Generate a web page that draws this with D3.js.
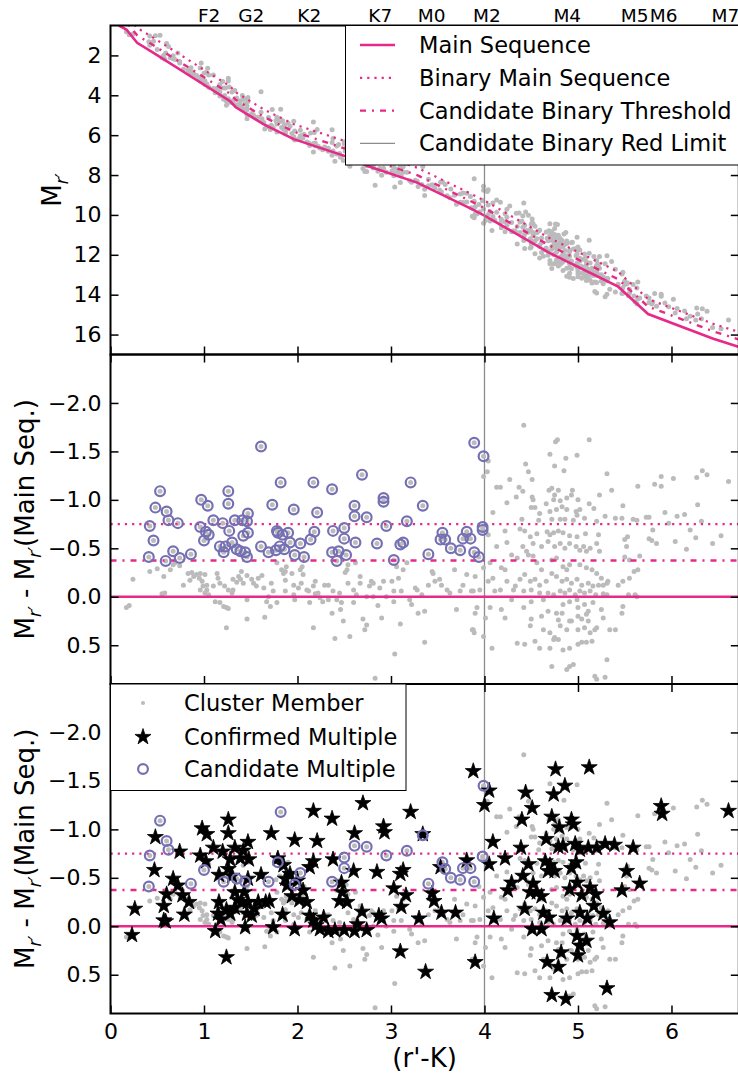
<!DOCTYPE html>
<html>
<head>
<meta charset="utf-8">
<script src="https://cdn.jsdelivr.net/npm/d3@7"></script>
<style>
  body { margin: 0; background: #fff; }
  text { font-family: "DejaVu Sans", sans-serif; }
</style>
</head>
<body>
<div id="canvas"></div>
<script>
"use strict";

// ---------------- Data ----------------
// Main sequence track, colour (r'-K) vs absolute mag M_r'
let msColor = [0.09, 0.17, 0.285, 0.46, 1.28, 1.34, 1.64, 1.96, 2.51, 2.75, 3.28, 3.86, 4.0, 4.68, 5.43, 5.75, 6.44, 6.74];
let msMag   = [0.5, 0.7, 1.37, 1.87, 4.3, 4.6, 5.46, 6.2, 7.05, 7.55, 8.38, 9.7, 10.03, 11.87, 13.6, 14.97, 16.2, 16.65];

let binaryOffset = -0.75;     // equal-mass binary sequence
let thresholdOffset = -0.375; // candidate binary threshold
let redLimit = 4.0;           // candidate binary red limit

// spectral types on the top axis
let specTypes  = ["F2", "G2", "K2", "K7", "M0", "M2", "M4", "M5", "M6", "M7"];
let specColors = [1.05, 1.5, 2.12, 2.88, 3.43, 4.02, 4.88, 5.6, 5.91, 6.57];

let xTicks = [0, 1, 2, 3, 4, 5, 6];
let magTicks = [2, 4, 6, 8, 10, 12, 14, 16];
let residTicks = [-2, -1.5, -1, -0.5, 0, 0.5];

// cluster members: [colour, M_r' - M_r'(main seq.)]
let members = [
  [0.24,-0.18],[0.20,0.09],[0.17,0.11],[0.42,-0.26],[0.50,-0.29],[0.57,-0.21],[0.55,-0.03],[0.58,-0.04],[0.64,-0.28],[0.67,-0.33],
  [0.69,-0.35],[0.74,-0.32],[0.78,-0.12],[0.83,-0.24],[0.87,-0.25],[0.89,-0.21],[0.85,-0.17],[0.92,-0.23],[0.95,-0.19],[0.96,-0.24],
  [0.98,-0.16],[0.99,-0.11],[1.01,-0.23],[1.03,-0.07],[1.05,-0.02],[0.96,-0.07],[1.01,-0.04],[1.03,-0.12],[1.14,-0.24],[1.15,-0.19],
  [1.10,-0.11],[1.12,0.05],[1.17,0.06],[1.21,0.10],[1.24,0.11],[1.26,0.12],[1.24,0.32],[1.17,-0.14],[1.22,-0.11],[1.26,-0.07],
  [1.30,-0.04],[1.31,-0.18],[1.35,-0.15],[1.37,-0.21],[1.39,-0.18],[1.42,-0.14],[1.40,-0.26],[1.46,-0.22],[1.46,0.03],[1.46,0.23],
  [1.31,-0.07],[1.51,-0.18],[1.53,-0.14],[1.56,-0.11],[1.58,-0.19],[1.62,-0.22],[1.64,-0.09],[1.65,0.21],[1.67,0.05],[1.69,0.00],
  [1.71,0.10],[1.72,-0.14],[1.74,-0.06],[1.78,0.06],[1.78,-0.35],[1.83,-0.28],[1.85,-0.24],[1.88,-0.31],[1.87,-0.26],[1.87,-0.06],
  [1.87,-0.17],[1.94,-0.24],[1.96,-0.12],[1.97,0.03],[1.96,-0.02],[2.01,-0.09],[2.03,-0.28],[2.05,-0.31],[2.06,-0.23],[2.04,-0.14],
  [2.10,-0.07],[2.12,-0.06],[2.13,0.06],[2.17,0.32],[2.17,-0.11],[2.19,-0.16],[2.19,-0.03],[2.22,-0.04],[2.24,0.01],[2.27,0.05],
  [2.29,-0.12],[2.33,0.03],[2.33,-0.12],[2.37,0.17],[2.38,-0.06],[2.40,0.43],[2.42,0.03],[2.45,-0.04],[2.46,0.13],[2.47,0.06],
  [2.49,0.25],[2.51,-0.25],[2.53,-0.28],[2.54,-0.33],[2.54,-0.14],[2.56,0.41],[2.60,0.06],[2.60,-0.07],[2.62,-0.35],[2.63,-0.02],
  [2.67,-0.14],[2.67,-0.21],[2.70,0.23],[2.72,0.34],[2.74,0.29],[2.74,0.00],[2.77,-0.11],[2.79,-0.16],[2.81,0.00],[2.81,-0.14],
  [2.83,0.84],[2.86,0.09],[2.88,-0.09],[2.90,0.22],[2.92,-0.16],[2.95,0.00],[3.01,-0.16],[3.03,-0.06],[3.03,0.05],[3.04,0.59],
  [3.06,-0.31],[3.08,-0.19],[3.10,0.28],[3.11,-0.06],[3.13,-0.28],[3.17,-0.35],[3.20,0.03],[3.22,0.08],[3.26,-0.09],[3.28,-0.07],
  [3.29,0.17],[3.33,-0.02],[3.36,0.47],[3.36,0.15],[3.40,-0.12],[3.44,-0.26],[3.45,-0.24],[3.47,-0.16],[3.52,-0.18],[3.54,-0.12],
  [3.60,-0.07],[3.63,-0.04],[3.68,-0.28],[3.70,0.13],[3.74,-0.06],[3.77,-0.12],[3.81,-0.23],[3.86,-0.06],[3.87,0.34],[3.89,0.37],
  [3.90,-0.21],
  [4.42,-1.77],[4.78,-1.62],[4.76,-1.60],[5.12,-1.62],[4.70,-1.47],[4.99,-1.46],[4.04,-1.40],[4.03,-1.29],[3.99,-1.24],[4.44,-1.37],
  [4.47,-1.29],[4.75,-1.35],[4.85,-1.30],[4.87,-1.43],[4.27,-1.21],[4.51,-1.21],[4.13,-1.13],[4.17,-1.13],[4.37,-1.13],[4.41,-1.09],
  [4.69,-1.10],[4.72,-1.12],[4.79,-1.10],[4.75,-1.05],[4.94,-1.10],[4.93,-1.05],[5.31,-1.27],[5.36,-1.10],[5.64,-1.14],[4.34,-1.03],
  [4.51,-1.03],[4.52,-1.00],[4.66,-0.96],[4.74,-1.00],[4.81,-0.99],[4.88,-1.02],[5.00,-1.00],[4.24,-0.97],[4.50,-0.92],[4.54,-0.92],
  [4.59,-0.86],[4.70,-0.88],[4.77,-0.90],[4.83,-0.93],[4.88,-0.90],[4.98,-0.88],[5.02,-0.90],[5.12,-0.96],[5.17,-0.91],[5.23,-1.05],
  [5.48,-0.94],[4.09,-0.87],[4.40,-0.80],[4.58,-0.79],[4.72,-0.80],[4.81,-0.80],[4.86,-0.80],[4.95,-0.79],[4.99,-0.84],[5.07,-0.81],
  [5.20,-0.78],[5.29,-0.83],[5.40,-0.81],[5.47,-0.81],[5.59,-0.80],[5.63,-0.79],[5.73,-0.82],
  [4.04,-0.64],[4.22,-0.68],[4.38,-0.70],[4.43,-0.68],[4.49,-0.62],[4.56,-0.65],[4.67,-0.67],[4.70,-0.64],[4.74,-0.66],[4.79,-0.68],
  [4.84,-0.66],[4.91,-0.63],[4.99,-0.62],[5.08,-0.65],[5.22,-0.64],[5.53,-0.62],[5.50,-0.59],[5.76,-0.60],
  [4.13,-0.52],[4.24,-0.56],[4.41,-0.52],[4.45,-0.47],[4.52,-0.55],[4.61,-0.52],[4.68,-0.57],[4.75,-0.52],[4.81,-0.55],[4.86,-0.50],
  [4.91,-0.55],[4.98,-0.52],[5.02,-0.48],[5.06,-0.52],[5.09,-0.47],[5.13,-0.50],[5.20,-0.55],[5.23,-0.47],[5.52,-0.52],[5.50,-0.41],
  [5.66,-0.42],[5.55,-0.38],
  [3.99,-0.30],[4.06,-0.35],[4.18,-0.30],[4.22,-0.28],[4.29,-0.43],[4.35,-0.40],[4.47,-0.43],[4.52,-0.42],[4.56,-0.35],[4.61,-0.28],
  [4.72,-0.38],[4.77,-0.40],[4.84,-0.31],[4.88,-0.28],[4.91,-0.33],[5.02,-0.33],[5.09,-0.30],[5.15,-0.28],[5.20,-0.24],[5.25,-0.19],
  [5.31,-0.14],[5.43,-0.12],[5.48,-0.16],[5.55,-0.19],[5.64,-0.28],[5.60,-0.26],
  [4.04,-0.16],[4.09,-0.19],[4.24,-0.16],[4.33,-0.11],[4.38,-0.18],[4.43,-0.23],[4.49,-0.16],[4.54,-0.18],[4.59,-0.12],[4.66,-0.16],
  [4.72,-0.24],[4.77,-0.21],[4.83,-0.16],[4.88,-0.18],[4.93,-0.14],[4.99,-0.18],[5.04,-0.12],[5.11,-0.14],[5.16,-0.11],[5.22,-0.12],
  [5.27,-0.12],[5.32,-0.16],
  [3.88,-0.06],[3.95,-0.07],[4.11,-0.06],[4.17,-0.07],[4.31,-0.07],[4.42,-0.06],[4.50,-0.07],[4.59,-0.04],[4.68,-0.04],[4.74,-0.02],
  [4.81,-0.06],[4.86,-0.04],[4.91,-0.07],[4.97,-0.02],[5.02,-0.06],[5.07,-0.04],[5.13,-0.06],[5.19,-0.02],[5.27,-0.03],[5.31,-0.02],
  [5.61,-0.02],
  [3.92,0.11],[4.06,0.11],[4.18,0.13],[4.29,0.03],[4.42,0.11],[4.50,0.05],[4.63,0.03],[4.68,0.15],[4.77,0.17],[4.84,0.08],
  [4.91,0.05],[4.99,0.03],[5.00,0.11],[5.07,0.08],[5.11,0.15],[5.16,0.06],[5.25,0.13],[5.48,0.10],
  [3.90,0.17],[4.01,0.22],[4.22,0.22],[4.50,0.23],[4.61,0.20],[4.79,0.24],[4.83,0.17],[4.91,0.25],[5.00,0.20],[5.04,0.23],
  [5.09,0.18],[5.11,0.25],[5.27,0.22],[5.47,0.17],[5.54,-0.02],
  [3.88,0.34],[3.99,0.41],[4.49,0.30],[4.63,0.34],[4.70,0.37],[4.75,0.42],[4.81,0.30],[4.88,0.34],[4.93,0.25],[5.00,0.34],
  [5.07,0.32],[5.13,0.37],[5.18,0.34],[5.20,0.32],[5.34,0.34],[5.40,0.34],
  [4.08,0.53],[4.35,0.48],[4.43,0.49],[4.54,0.46],[4.59,0.53],[4.70,0.53],[4.74,0.44],[4.79,0.44],[4.84,0.55],[4.91,0.53],
  [5.00,0.49],[5.04,0.47],[5.09,0.47],[5.15,0.46],[5.31,0.65],
  [4.72,0.72],[4.88,0.75],[4.91,0.72],[4.95,0.70],[5.18,0.82],[5.29,0.83],[5.20,0.85],
  [5.82,-1.16],[5.89,-1.24],[5.89,-1.14],[6.02,-1.22],[6.27,-1.23],[6.33,-1.30],[6.38,-1.26],[6.61,-1.19],[6.28,-0.95],[5.93,-0.87],
  [6.06,-0.83],[6.14,-0.85],[5.97,-0.76],[6.20,-0.69],[6.32,-0.78],[5.80,-0.69],[5.79,-0.58],[5.84,-0.55],[6.04,-0.57],[6.16,-0.49],
  [6.26,-0.61],[6.44,-0.55],[6.53,-0.63],[5.76,-0.82],[5.63,0.00]
];

// candidate multiples that are not confirmed (open circles in both residual panels)
let candOpen = [
  [0.41,-0.41],[0.42,-0.73],[0.53,-1.09],[0.60,-0.88],[0.62,-0.79],[0.86,-0.44],[1.00,-0.58],[1.21,-0.46],[1.35,-0.49],[1.44,-0.46],
  [1.61,-1.55],[1.69,-0.46],[1.79,-0.66],[1.82,-1.18],[1.97,-0.43],[2.03,-0.55],[2.37,-0.46],[2.50,-0.71],[2.50,-0.60],[2.61,-0.83],
  [2.74,-0.82],[2.95,-0.73],[3.17,-0.78],[3.34,-0.94],[3.40,-0.44],[3.55,-0.66],[3.58,-0.59],[3.64,-0.50],[3.74,-0.48],[3.77,-0.60],
  [3.85,-0.60],[3.89,-0.46],[3.98,-0.72],[3.99,-1.45]
];

// candidate multiples that are also confirmed (circle in middle panel, star in bottom panel)
let candConfirmed = [
  [0.46,-0.58],[0.48,-0.92],[0.59,-0.37],[0.67,-0.47],[0.72,-0.76],[0.74,-0.40],[0.97,-1.00],[0.96,-0.72],[1.02,-0.67],[1.04,-0.94],
  [1.05,-0.64],[1.10,-0.79],[1.17,-0.52],[1.20,-0.76],[1.23,-0.52],[1.26,-1.09],[1.26,-0.96],[1.27,-0.68],[1.30,-0.56],[1.33,-0.79],
  [1.39,-0.47],[1.41,-0.79],[1.42,-0.63],[1.46,-0.41],[1.47,-0.86],[1.47,-0.66],[1.46,-0.78],[1.61,-0.52],[1.73,-0.95],[1.77,-0.48],
  [1.78,-0.68],[1.81,-0.52],[1.84,-0.64],[1.86,-0.49],[1.90,-0.66],[1.92,-0.56],[1.96,-0.90],[2.07,-0.41],[2.14,-0.59],[2.17,-1.18],
  [2.18,-0.67],[2.21,-0.87],[2.37,-1.11],[2.38,-0.68],[2.42,-0.37],[2.44,-0.47],[2.52,-0.43],[2.61,-0.94],[2.62,-0.56],[2.69,-1.26],
  [2.85,-0.55],[2.92,-1.02],[2.92,-0.98],[3.21,-1.18],[3.13,-0.56],[3.10,-0.54],[3.03,-0.38],[3.53,-0.59],[3.81,-0.67],[3.89,-1.59],
  [3.94,-0.41],[3.98,-0.69]
];

// confirmed multiples (stars, bottom panel)
let confirmed = [
  [0.23,0.09],[0.26,-0.18],[0.48,-0.92],[0.47,-0.58],[0.57,-0.21],[0.60,-0.33],[0.57,-0.06],[0.59,-0.05],[0.67,-0.49],[0.72,-0.42],
  [0.74,-0.77],[0.77,-0.32],[0.79,-0.12],[0.84,-0.25],[0.98,-1.01],[1.03,-0.95],[0.96,-0.73],[1.02,-0.67],[1.10,-0.81],[1.12,0.05],
  [1.16,-0.53],[1.16,-0.25],[1.15,-0.13],[1.18,-0.07],[1.24,0.32],[1.26,-1.10],[1.26,-0.96],[1.20,-0.77],[1.28,-0.69],[1.26,-0.59],
  [1.30,-0.52],[1.24,-0.17],[1.28,-0.13],[1.33,-0.19],[1.36,-0.27],[1.33,-0.35],[1.33,-0.81],[1.39,-0.70],[1.42,-0.78],[1.47,-0.87],
  [1.48,-0.69],[1.43,-0.35],[1.47,-0.49],[1.47,-0.25],[1.54,-0.18],[1.40,-0.25],[1.46,-0.13],[1.51,-0.11],[1.58,-0.25],[1.44,0.01],
  [1.61,-0.53],[1.66,-0.25],[1.70,-0.26],[1.72,-0.96],[1.74,0.01],[1.79,-0.70],[1.85,-0.63],[1.87,-0.49],[1.92,-0.54],[1.84,-0.12],
  [1.89,-0.42],[1.94,-0.31],[1.97,-0.89],[2.00,-0.47],[2.02,-0.27],[1.97,0.03],[2.06,-0.37],[2.10,-0.25],[2.13,-0.61],[2.17,-0.67],
  [2.17,-1.19],[2.21,-0.88],[2.13,-0.11],[2.17,-0.06],[2.20,-0.01],[2.24,0.03],[2.28,-0.09],[2.33,0.05],[2.37,-1.11],[2.38,-0.69],
  [2.40,0.04],[2.45,-0.26],[2.48,-0.35],[2.47,-0.45],[2.53,-0.25],[2.50,0.04],[2.61,-0.96],[2.60,-0.57],[2.61,0.05],[2.64,-0.02],
  [2.69,-0.15],[2.74,0.04],[2.87,-0.11],[2.90,-0.08],[2.70,-1.27],[2.85,-0.56],[2.92,-1.03],[2.93,-0.97],[3.03,-0.39],[3.10,-0.54],
  [3.13,-0.58],[3.11,-0.20],[3.16,-0.32],[3.10,0.26],[3.21,-1.18],[3.30,-0.08],[3.37,0.47],[3.34,-0.95],[3.44,-0.34],[3.46,-0.26],
  [3.53,-0.61],[3.54,-0.14],[3.69,-0.14],[3.81,-0.68],[3.88,-1.60],[3.90,0.37],
  [4.00,-1.25],[4.05,-1.40],[4.05,-0.64],[4.09,-0.87],[4.10,-0.08],[4.22,-0.70],[4.25,-0.37],[4.29,-0.45],[4.40,-1.10],[4.39,-0.81],
  [4.41,-0.52],[4.43,-0.18],[4.44,-1.38],[4.47,-0.64],[4.49,-0.35],[4.51,-1.22],[4.51,0.03],[4.52,-0.44],[4.56,-0.35],[4.61,-0.31],
  [4.61,0.03],[4.63,-0.14],[4.65,-0.67],[4.66,-0.90],[4.67,0.37],[4.68,-0.57],[4.69,-0.09],[4.70,-0.63],[4.72,-1.13],[4.72,0.71],
  [4.74,-1.36],[4.75,-0.57],[4.76,-1.62],[4.79,-0.82],[4.79,0.42],[4.80,-1.02],[4.82,0.27],[4.84,-0.83],[4.86,-1.45],[4.87,0.75],
  [4.88,-0.08],[4.91,-0.38],[4.93,-1.10],[4.93,-0.60],[4.95,-1.05],[4.97,-0.85],[4.98,-0.66],[4.99,-0.45],[4.99,0.10],[5.00,0.30],
  [5.02,-0.79],[5.02,-0.14],[5.02,0.20],[5.04,-0.32],[5.09,0.15],[5.10,-0.08],[5.11,-0.81],[5.12,-1.64],[5.13,-0.40],[5.17,-0.21],
  [5.19,-0.33],[5.20,-0.81],[5.27,-0.13],[5.29,-0.85],[5.31,0.64],[5.34,-0.04],[5.39,-0.84],[5.47,-0.37],[5.52,-0.57],[5.59,-0.81],
  [5.66,-0.44],[5.89,-1.24],[5.90,-1.16],[6.61,-1.19]
];

// ---------------- Canvas ----------------
let svgWidth = 738;
let svgHeight = 1078;
let plotLeft = 110.5;
let plotRight = 738.8;
let panelTop = [25.5, 354.5, 684];
let panelBottom = [354.5, 684, 1013.5];

let pink = "#e7298a";
let purple = "#7570b3";
let memberGrey = "#bbbbbb";
let limitGrey = "#8c8c8c";
let tickFont = "22px";
let legendFont = "22.5px";
let labelFont = "26px";
let dotR = 2.5;
let starSize = 80;

let svg = d3.select("#canvas")
  .append("svg")
  .attr("width", svgWidth)
  .attr("height", svgHeight)
  .style("display", "block");

// Scales
let xScale = d3.scaleLinear().domain([0, 6.72]).range([plotLeft, plotRight]);
let magScale = d3.scaleLinear().domain([0.5, 17]).range([panelTop[0], panelBottom[0]]);
let midScale = d3.scaleLinear().domain([-2.5, 0.9]).range([panelTop[1], panelBottom[1]]);
let botScale = d3.scaleLinear().domain([-2.5, 0.9]).range([panelTop[2], panelBottom[2]]);
let msScale = d3.scaleLinear().domain(msColor).range(msMag); // piecewise main sequence

let allCands = candOpen.concat(candConfirmed);
let allMembers = members.concat(allCands);

// clip rects
let defs = svg.append("defs");
for (let i = 0; i < 3; i++) {
  defs.append("clipPath").attr("id", "clip" + i)
    .append("rect")
    .attr("x", plotLeft).attr("y", panelTop[i])
    .attr("width", plotRight - plotLeft).attr("height", panelBottom[i] - panelTop[i]);
}

let panels = [0, 1, 2].map(function(i) {
  return svg.append("g").attr("clip-path", "url(#clip" + i + ")");
});

// ---------------- Top panel: CMD ----------------
panels[0].selectAll("circle.member")
  .data(allMembers)
  .enter()
  .append("circle")
  .attr("class", "member")
  .attr("cx", function(d) { return xScale(d[0]); })
  .attr("cy", function(d) { return magScale(msScale(d[0]) + d[1]); })
  .attr("r", dotR)
  .attr("fill", memberGrey);

let msPoints = msColor.map(function(c, i) { return [c, msMag[i]]; });
function seqLine(offset) {
  return d3.line()
    .x(function(d) { return xScale(d[0]); })
    .y(function(d) { return magScale(d[1] + offset); })(msPoints);
}

panels[0].append("path").attr("d", seqLine(binaryOffset))
  .attr("fill", "none").attr("stroke", pink).attr("stroke-width", 2.2).attr("stroke-dasharray", "2.2,5");
panels[0].append("path").attr("d", seqLine(thresholdOffset))
  .attr("fill", "none").attr("stroke", pink).attr("stroke-width", 2.4).attr("stroke-dasharray", "6,6,2,6");
panels[0].append("path").attr("d", seqLine(0))
  .attr("fill", "none").attr("stroke", pink).attr("stroke-width", 2.6);

// red limit line in every panel
for (let i = 0; i < 3; i++) {
  panels[i].append("line")
    .attr("x1", xScale(redLimit)).attr("x2", xScale(redLimit))
    .attr("y1", panelTop[i]).attr("y2", panelBottom[i])
    .attr("stroke", limitGrey).attr("stroke-width", 1.3);
}

// ---------------- Residual panels ----------------
function residualPanel(g, yScale, showStars) {
  // grey members
  g.selectAll("circle.member")
    .data(allMembers)
    .enter()
    .append("circle")
    .attr("class", "member")
    .attr("cx", function(d) { return xScale(d[0]); })
    .attr("cy", function(d) { return yScale(d[1]); })
    .attr("r", dotR)
    .attr("fill", memberGrey);

  let xs = xScale.domain();
  g.append("line").attr("x1", xScale(xs[0])).attr("x2", xScale(xs[1]))
    .attr("y1", yScale(binaryOffset)).attr("y2", yScale(binaryOffset))
    .attr("stroke", pink).attr("stroke-width", 2.2).attr("stroke-dasharray", "2.2,5");
  g.append("line").attr("x1", xScale(xs[0])).attr("x2", xScale(xs[1]))
    .attr("y1", yScale(thresholdOffset)).attr("y2", yScale(thresholdOffset))
    .attr("stroke", pink).attr("stroke-width", 2.4).attr("stroke-dasharray", "6,6,2,6");
  g.append("line").attr("x1", xScale(xs[0])).attr("x2", xScale(xs[1]))
    .attr("y1", yScale(0)).attr("y2", yScale(0))
    .attr("stroke", pink).attr("stroke-width", 2.6);

  if (showStars) {
    g.selectAll("path.star")
      .data(confirmed)
      .enter()
      .append("path")
      .attr("class", "star")
      .attr("d", d3.symbol().type(d3.symbolStar).size(starSize))
      .attr("transform", function(d) { return "translate(" + xScale(d[0]) + "," + yScale(d[1]) + ")"; })
      .attr("fill", "black")
      .attr("stroke", "black")
      .attr("stroke-width", 0.8);
  }

  g.selectAll("circle.cand")
    .data(showStars ? candOpen : allCands)
    .enter()
    .append("circle")
    .attr("class", "cand")
    .attr("cx", function(d) { return xScale(d[0]); })
    .attr("cy", function(d) { return yScale(d[1]); })
    .attr("r", 4.9)
    .attr("fill", "none")
    .attr("stroke", purple)
    .attr("stroke-width", 2.2);
}
residualPanel(panels[1], midScale, false);
residualPanel(panels[2], botScale, true);

// ---------------- Axes ----------------
let scalesY = [magScale, midScale, botScale];
for (let i = 0; i < 3; i++) {
  let yScale = scalesY[i];
  let yVals = i == 0 ? magTicks : residTicks;
  let yFmt = i == 0 ? d3.format("d") : d3.format(".1f");

  let left = svg.append("g").attr("transform", "translate(" + plotLeft + ",0)")
    .call(d3.axisLeft(yScale).tickValues(yVals).tickFormat(yFmt).tickSize(-8).tickPadding(9));
  let right = svg.append("g").attr("transform", "translate(" + plotRight + ",0)")
    .call(d3.axisRight(yScale).tickValues(yVals).tickFormat("").tickSize(-8));
  let bottom = svg.append("g").attr("transform", "translate(0," + panelBottom[i] + ")")
    .call(d3.axisBottom(xScale).tickValues(xTicks)
      .tickFormat(i == 2 ? d3.format("d") : "").tickSize(-8).tickPadding(10));
  let axes = [left, right, bottom];
  if (i > 0) {
    axes.push(svg.append("g").attr("transform", "translate(0," + panelTop[i] + ")")
      .call(d3.axisTop(xScale).tickValues(xTicks).tickFormat("").tickSize(-8)));
  }
  axes.forEach(function(a) {
    a.select(".domain").remove();
    a.selectAll(".tick line").attr("stroke", "black").attr("stroke-width", 1.5);
    a.selectAll("text").style("font-size", tickFont).attr("fill", "black")
      .style("font-family", "DejaVu Sans");
  });

  // frame
  svg.append("rect")
    .attr("x", plotLeft).attr("y", panelTop[i])
    .attr("width", plotRight - plotLeft).attr("height", panelBottom[i] - panelTop[i])
    .attr("fill", "none").attr("stroke", "black").attr("stroke-width", 2);
}

// spectral types on top
let specAxis = svg.append("g").attr("transform", "translate(0," + panelTop[0] + ")")
  .call(d3.axisTop(xScale).tickValues(specColors)
    .tickFormat(function(d) { return specTypes[specColors.indexOf(d)]; })
    .tickSize(0).tickPadding(4));
specAxis.select(".domain").remove();
specAxis.selectAll("text").style("font-size", "18.5px").attr("fill", "black");

// ---------------- Axis labels ----------------
function magLabel(sel) {
  sel.append("tspan").text("M");
  sel.append("tspan").attr("dy", 7).style("font-size", "17px").style("font-style", "italic").text("r\u2032");
}

let topLabel = svg.append("text")
  .attr("transform", "translate(61," + ((panelTop[0] + panelBottom[0]) / 2) + ") rotate(-90)")
  .attr("text-anchor", "middle")
  .style("font-size", labelFont);
magLabel(topLabel);

for (let i = 1; i < 3; i++) {
  let lab = svg.append("text")
    .attr("transform", "translate(34," + ((panelTop[i] + panelBottom[i]) / 2) + ") rotate(-90)")
    .attr("text-anchor", "middle")
    .style("font-size", labelFont);
  magLabel(lab);
  lab.append("tspan").attr("dy", -7).text(" - M");
  lab.append("tspan").attr("dy", 7).style("font-size", "17px").style("font-style", "italic").text("r\u2032");
  lab.append("tspan").attr("dy", -7).text("(Main Seq.)");
}

svg.append("text")
  .attr("x", (plotLeft + plotRight) / 2)
  .attr("y", 1067)
  .attr("text-anchor", "middle")
  .style("font-size", labelFont)
  .text("(r'-K)");

// ---------------- Legends ----------------
// top legend: sequences
let legTop = svg.append("g");
legTop.append("rect")
  .attr("x", 345.5).attr("y", panelTop[0])
  .attr("width", 400).attr("height", 139.5)
  .attr("fill", "white").attr("stroke", "black").attr("stroke-width", 1);

let seqNames = ["Main Sequence", "Binary Main Sequence", "Candidate Binary Threshold", "Candidate Binary Red Limit"];
let seqDash = [null, "2.2,5", "6,6,2,6", null];
let seqColor = [pink, pink, pink, limitGrey];
let seqWidth = [2.6, 2.2, 2.4, 1.3];
for (let i = 0; i < seqNames.length; i++) {
  let y = 45 + i * 32.8;
  legTop.append("line")
    .attr("x1", 360).attr("x2", 395).attr("y1", y).attr("y2", y)
    .attr("stroke", seqColor[i]).attr("stroke-width", seqWidth[i])
    .attr("stroke-dasharray", seqDash[i]);
  legTop.append("text")
    .attr("x", 419).attr("y", y + 8)
    .style("font-size", legendFont)
    .text(seqNames[i]);
}

// bottom legend: markers
let legBot = svg.append("g");
legBot.append("rect")
  .attr("x", plotLeft).attr("y", panelTop[2])
  .attr("width", 295.5).attr("height", 106.5)
  .attr("fill", "white").attr("stroke", "black").attr("stroke-width", 1);

let markNames = ["Cluster Member", "Confirmed Multiple", "Candidate Multiple"];
let markY = [703, 737, 769];
legBot.append("circle").attr("cx", 143).attr("cy", markY[0]).attr("r", 2.1).attr("fill", memberGrey);
legBot.append("path")
  .attr("d", d3.symbol().type(d3.symbolStar).size(starSize))
  .attr("transform", "translate(143," + markY[1] + ")")
  .attr("fill", "black").attr("stroke", "black").attr("stroke-width", 0.8);
legBot.append("circle").attr("cx", 143).attr("cy", markY[2]).attr("r", 4.9)
  .attr("fill", "none").attr("stroke", purple).attr("stroke-width", 2.2);
for (let i = 0; i < markNames.length; i++) {
  legBot.append("text")
    .attr("x", 184).attr("y", markY[i] + 8)
    .style("font-size", legendFont)
    .text(markNames[i]);
}
</script>
</body>
</html>
